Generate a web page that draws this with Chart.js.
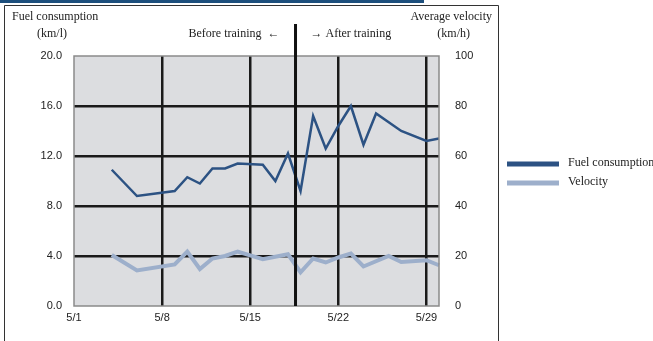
<!DOCTYPE html>
<html>
<head>
<meta charset="utf-8">
<script src="https://cdn.jsdelivr.net/npm/chart.js@4.4.0/dist/chart.umd.min.js"></script>
<style>
  html, body { margin: 0; padding: 0; background: #fff; }
  #wrap { width: 653px; height: 341px; }
</style>
</head>
<body>
<div id="wrap"><canvas id="myChart" width="653" height="341"></canvas></div>
<script>
// days of May
var days = [];
for (var d = 1; d <= 30; d++) days.push("5/" + d);
var shownDays = ["5/1", "5/8", "5/15", "5/22", "5/29"];

// fuel consumption (km/l), null = no reading that day
var fuel = [null,null,null,10.9,null,8.8,null,null,9.2,10.3,
            9.8,11.0,11.0,11.4,null,11.3,10.0,12.2,9.2,15.2,
            12.6,14.4,16.0,12.9,15.4,null,14.0,null,13.2,13.4];
// average velocity (km/h)
var velocity = [null,null,null,20.4,null,14.2,null,null,16.6,21.8,
                14.8,19.0,20.0,21.8,null,18.7,null,20.7,13.5,19.0,
                17.4,19.4,21.0,15.8,null,20.0,17.6,null,18.3,16.3];
var fuelTicks = [0, 4, 8, 12, 16, 20];
var speedTicks = [0, 20, 40, 60, 80, 100];
var trainingDay = 18.6; // boundary between before/after training

var serif = "'Liberation Serif', 'Times New Roman', serif";
var sans = "'Liberation Sans', Arial, sans-serif";

var decor = {
  id: 'decor',
  beforeDraw: function(chart) {
    var c = chart.ctx, a = chart.chartArea;
    c.save();
    // header bar + frame
    c.fillStyle = '#1d4f7c';
    c.fillRect(0, 0, 424, 3);
    c.strokeStyle = '#333';
    c.lineWidth = 1;
    c.beginPath();
    c.moveTo(4.5, 345); c.lineTo(4.5, 5.5); c.lineTo(498.5, 5.5); c.lineTo(498.5, 345);
    c.stroke();
    // plot background
    c.fillStyle = '#dcdde0';
    c.fillRect(a.left, a.top, a.right - a.left, a.bottom - a.top);
    c.restore();
  },
  afterDatasetsDraw: function(chart) {
    var c = chart.ctx, a = chart.chartArea;
    c.save();
    c.strokeStyle = '#8a8a8a';
    c.lineWidth = 1.5;
    c.strokeRect(a.left, a.top, a.right - a.left, a.bottom - a.top);
    // training divider
    var x = chart.scales.x.getPixelForValue(trainingDay - 1);
    c.strokeStyle = '#111';
    c.lineWidth = 3;
    c.beginPath(); c.moveTo(x, 24); c.lineTo(x, a.bottom); c.stroke();

    c.fillStyle = '#222';
    c.font = '12px ' + serif;
    c.textBaseline = 'middle';
    c.textAlign = 'left';
    c.fillText('Fuel consumption', 12, 17);
    c.fillText('(km/l)', 37, 34);
    c.textAlign = 'right';
    c.fillText('Before training  \u2190', x - 16, 34);
    c.textAlign = 'left';
    c.fillText('\u2192 After training', x + 15, 34);
    c.textAlign = 'right';
    c.fillText('Average velocity', 492, 17);
    c.fillText('(km/h)', 470, 34);

    // legend
    chart.data.datasets.forEach(function(ds, i) {
      var y = 164 + i * 19;
      c.fillStyle = ds.borderColor;
      c.fillRect(507, y - 2.5, 52, 5);
      c.fillStyle = '#222';
      c.textAlign = 'left';
      c.fillText(ds.label, 568, y - 1);
    });
    c.restore();
  }
};

var ctx = document.getElementById("myChart");
var myChart = new Chart(ctx, {
  type: 'line',
  data: {
    labels: days,
    datasets: [
      {
        label: "Fuel consumption",
        data: fuel,
        yAxisID: 'y',
        borderColor: "#2c5283",
        borderWidth: 2.5,
        pointRadius: 0,
        spanGaps: true,
        fill: false
      },
      {
        label: "Velocity",
        data: velocity,
        yAxisID: 'y2',
        borderColor: "#9dafcb",
        borderWidth: 4,
        pointRadius: 0,
        spanGaps: true,
        fill: false
      }
    ]
  },
  options: {
    responsive: false,
    animation: false,
    layout: { padding: { top: 56, left: 0, right: 0, bottom: 0 } },
    plugins: { legend: { display: false }, tooltip: { enabled: false } },
    scales: {
      x: {
        offset: false,
        border: { display: false },
        grid: {
          drawTicks: false,
          lineWidth: 2.5,
          color: function(c) {
            var lab = days[c.index];
            return (c.index > 0 && shownDays.indexOf(lab) >= 0) ? '#1a1a1a' : 'rgba(0,0,0,0)';
          }
        },
        ticks: {
          autoSkip: false,
          maxRotation: 0,
          padding: 5,
          color: '#222',
          font: { family: sans, size: 11 },
          callback: function(v, i) {
            var lab = days[i];
            return shownDays.indexOf(lab) >= 0 ? lab : '';
          }
        },
        afterFit: function(s) { s.height = 35; }
      },
      y: {
        position: 'left',
        min: fuelTicks[0], max: fuelTicks[fuelTicks.length - 1],
        border: { display: false },
        afterBuildTicks: function(s) { s.ticks = fuelTicks.map(function(v) { return { value: v }; }); },
        grid: {
          drawTicks: false,
          lineWidth: 2.5,
          color: function(c) {
            var v = c.tick ? c.tick.value : 0;
            return (v > 0 && v < 20) ? '#1a1a1a' : 'rgba(0,0,0,0)';
          }
        },
        ticks: {
          padding: 12,
          color: '#222',
          font: { family: sans, size: 11 },
          callback: function(v) { return Number(v).toFixed(1); }
        },
        afterFit: function(s) { s.width = 74; }
      },
      y2: {
        position: 'right',
        min: speedTicks[0], max: speedTicks[speedTicks.length - 1],
        border: { display: false },
        afterBuildTicks: function(s) { s.ticks = speedTicks.map(function(v) { return { value: v }; }); },
        grid: { display: false, drawTicks: false },
        ticks: {
          padding: 16,
          color: '#222',
          font: { family: sans, size: 11 }
        },
        afterFit: function(s) { s.width = 214; }
      }
    }
  },
  plugins: [decor]
});
</script>
</body>
</html>
